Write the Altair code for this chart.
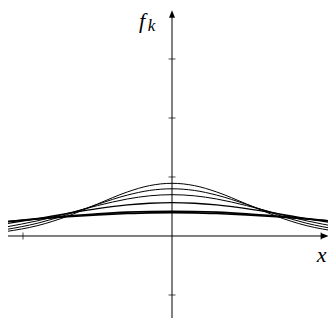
import altair as alt
import pandas as pd

# sample positions along x
xs = [-1.12, -0.9, -0.7, -0.5, -0.3, -0.15, 0.0, 0.15, 0.3, 0.5, 0.7, 0.9, 1.12]
# curve values (symmetric bumps, decreasing peak)
f1 = [0.073, 0.177, 0.336, 0.542, 0.746, 0.854, 0.893, 0.854, 0.746, 0.542, 0.336, 0.177, 0.073]
f2 = [0.107, 0.218, 0.365, 0.536, 0.693, 0.772, 0.800, 0.772, 0.693, 0.536, 0.365, 0.218, 0.107]
f3 = [0.150, 0.259, 0.384, 0.515, 0.627, 0.681, 0.700, 0.681, 0.627, 0.515, 0.384, 0.259, 0.150]
f4 = [0.207, 0.296, 0.382, 0.463, 0.526, 0.555, 0.565, 0.555, 0.526, 0.463, 0.382, 0.296, 0.207]
f5 = [0.241, 0.294, 0.338, 0.376, 0.404, 0.416, 0.420, 0.416, 0.404, 0.376, 0.338, 0.294, 0.241]
f6 = [0.242, 0.288, 0.326, 0.358, 0.381, 0.392, 0.395, 0.392, 0.381, 0.358, 0.326, 0.288, 0.242]
curves = [f1, f2, f3, f4, f5, f6]
widths = [1.0, 1.0, 1.0, 1.3, 1.6, 1.6]

y_ticks = [-1, 1, 2, 3]
x_ticks = [-1, 1]

XD = [-1.1007, 1.047]
YD = [-1.390, 3.864]

rows = []
for i, c in enumerate(curves):
    for x, v in zip(xs, c):
        rows.append({"x": x, "y": v, "k": i, "w": widths[i]})
df = pd.DataFrame(rows)

xs_ = alt.Scale(domain=XD, nice=False, zero=False)
ys_ = alt.Scale(domain=YD, nice=False, zero=False)

def X(f="x"):
    return alt.X(f, type="quantitative", scale=xs_, axis=None)

def Y(f="y"):
    return alt.Y(f, type="quantitative", scale=ys_, axis=None)

lines = alt.Chart(df).mark_line(color="black", interpolate="monotone", clip=True).encode(
    x=X(), y=Y(), detail="k:N",
    strokeWidth=alt.StrokeWidth("w:Q", scale=None),
)

axes_df = pd.DataFrame([
    {"x": -1.1007, "x2": 1.025, "y": 0.0, "y2": 0.0},
    {"x": 0.0, "x2": 0.0, "y": -1.390, "y2": 3.72},
])
axes = alt.Chart(axes_df).mark_rule(color="black", strokeWidth=1).encode(
    x=X(), x2="x2:Q", y=Y(), y2="y2:Q"
)

arrow_df = pd.DataFrame([
    {"x": 0.0, "y": 3.763, "a": 0},
    {"x": 1.025, "y": 0.0, "a": 90},
])
arrows = alt.Chart(arrow_df).mark_point(
    shape="M0,-1L0.8,1L-0.8,1Z", filled=True, color="black", opacity=1, size=56
).encode(x=X(), y=Y(), angle=alt.Angle("a:Q", scale=None))

yt = alt.Chart(pd.DataFrame({"y": y_ticks, "x": [0.0] * len(y_ticks)})).mark_tick(
    orient="horizontal", size=7, thickness=1, color="black"
).encode(x=X(), y=Y())
xt = alt.Chart(pd.DataFrame({"x": x_ticks, "y": [0.0] * len(x_ticks)})).mark_tick(
    orient="vertical", size=7, thickness=1, color="black"
).encode(x=X(), y=Y())

lab_f = alt.Chart(pd.DataFrame({"x": [-0.201], "y": [3.525], "t": ["f"]})).mark_text(
    font="Liberation Serif", fontStyle="italic", fontSize=22, align="center", baseline="alphabetic"
).encode(x=X(), y=Y(), text="t:N")
lab_k = alt.Chart(pd.DataFrame({"x": [-0.137], "y": [3.475], "t": ["k"]})).mark_text(
    font="Liberation Serif", fontStyle="italic", fontSize=17, align="center", baseline="alphabetic"
).encode(x=X(), y=Y(), text="t:N")
lab_x = alt.Chart(pd.DataFrame({"x": [1.005], "y": [-0.322], "t": ["x"]})).mark_text(
    font="Liberation Serif", fontStyle="italic", fontSize=22, align="center", baseline="middle"
).encode(x=X(), y=Y(), text="t:N")

chart = alt.layer(axes, yt, xt, lines, arrows, lab_f, lab_k, lab_x).properties(
    width=320, height=310, padding=0, autosize=alt.AutoSizeParams(type="none")
).configure_view(stroke=None)

chart.save("out.html", embed_options={"renderer": "svg", "actions": False})
